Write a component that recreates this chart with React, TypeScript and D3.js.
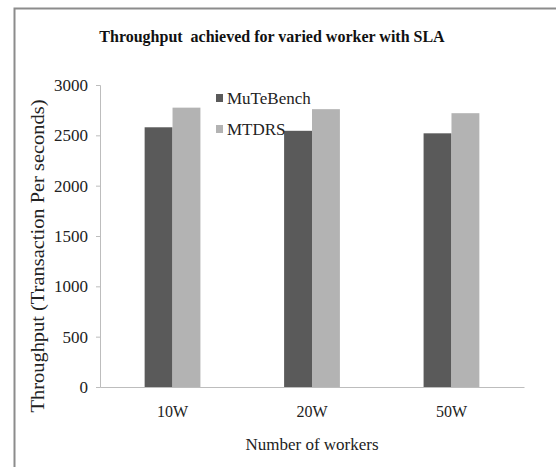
import { useRef, useEffect } from "react";
import * as d3 from "d3";

const categories = ["10W", "20W", "50W"];
const seriesNames = ["MuTeBench", "MTDRS"];
const muTeBench = [2580, 2545, 2520];
const mtdrs = [2775, 2760, 2720];
const yTicks = [0, 500, 1000, 1500, 2000, 2500, 3000];

const COLORS = ["#5a5a5a", "#b3b3b3"];
const W = 556;
const H = 467;
const PLOT = { left: 100, right: 524, top: 85, bottom: 387 };
const FONT = "Liberation Serif, Times New Roman, serif";

const App = () => {
  const xAxisRef = useRef<SVGGElement | null>(null);
  const yAxisRef = useRef<SVGGElement | null>(null);

  const xScale = d3
    .scaleBand<string>()
    .domain(categories)
    .range([PLOT.left, PLOT.right])
    .paddingInner(0.6)
    .paddingOuter(0.32);

  const subScale = d3
    .scaleBand<string>()
    .domain(seriesNames)
    .range([0, xScale.bandwidth()]);

  const yScale = d3
    .scaleLinear()
    .domain([0, 3000])
    .range([PLOT.bottom, PLOT.top]);

  const values = [muTeBench, mtdrs];

  useEffect(() => {
    const gy = d3.select(yAxisRef.current);
    gy.selectAll("*").remove();
    gy.call(
      d3
        .axisLeft(yScale)
        .tickValues(yTicks)
        .tickFormat(d3.format("d"))
        .tickSize(4)
        .tickPadding(8)
    );
    gy.attr("font-family", FONT).attr("font-size", 17);
    gy.select(".domain").attr("stroke", "#bdbdbd");
    gy.selectAll(".tick line").attr("stroke", "#bdbdbd");
    gy.selectAll(".tick text").attr("fill", "#222");

    const gx = d3.select(xAxisRef.current);
    gx.selectAll("*").remove();
    gx.call(d3.axisBottom(xScale).tickSize(0).tickPadding(19).tickSizeOuter(0));
    gx.attr("font-family", FONT).attr("font-size", 16);
    gx.select(".domain").attr("stroke", "#bdbdbd");
    gx.selectAll(".tick text").attr("fill", "#222");
  }, []);

  return (
    <svg
      width={W}
      height={H}
      style={{ position: "absolute", left: 0, top: 0, background: "#fff" }}
    >
      <rect x={14.5} y={8.5} width={560} height={480} fill="#fff" stroke="#8c8c8c" strokeWidth={2} />

      <text
        x={272}
        y={42}
        textAnchor="middle"
        fontFamily={FONT}
        fontWeight="bold"
        fontSize={16}
        fill="#111"
        style={{ whiteSpace: "pre" }}
      >
        {"Throughput  achieved for varied worker with SLA"}
      </text>

      {categories.map((c, i) => (
        <g key={c} transform={`translate(${xScale(c)},0)`}>
          {seriesNames.map((s, j) => (
            <rect
              key={s}
              x={subScale(s)}
              y={yScale(values[j][i])}
              width={subScale.bandwidth()}
              height={yScale(0) - yScale(values[j][i])}
              fill={COLORS[j]}
            />
          ))}
        </g>
      ))}

      <g ref={yAxisRef} transform={`translate(${PLOT.left},0)`} />
      <g ref={xAxisRef} transform={`translate(0,${PLOT.bottom})`} />

      {seriesNames.map((s, j) => (
        <g key={s} transform={`translate(216,${98 + j * 31})`}>
          <rect x={0} y={-4} width={7} height={8} fill={COLORS[j]} />
          <text x={11} y={6} fontFamily={FONT} fontSize={17} fill="#222">
            {s}
          </text>
        </g>
      ))}

      <text
        x={312}
        y={450}
        textAnchor="middle"
        fontFamily={FONT}
        fontSize={17}
        fill="#222"
      >
        Number of workers
      </text>

      <text
        transform="translate(44,256) rotate(-90)"
        textAnchor="middle"
        fontFamily={FONT}
        fontSize={18}
        textLength={313}
        lengthAdjust="spacingAndGlyphs"
        fill="#222"
      >
        Throughput (Transaction Per seconds)
      </text>
    </svg>
  );
};

export default App;
